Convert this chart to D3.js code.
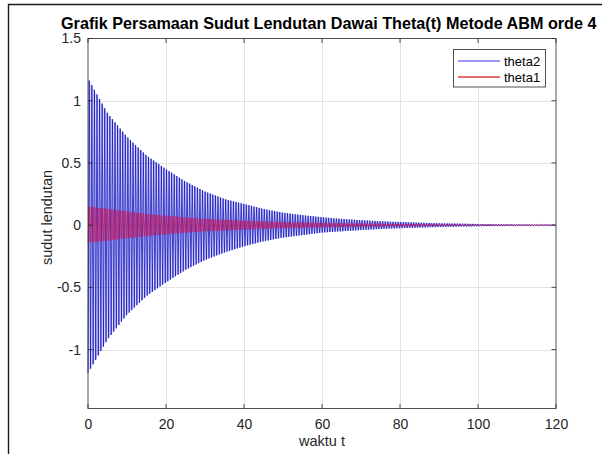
<!DOCTYPE html>
<html>
<head>
<meta charset="utf-8">
<script src="https://cdn.jsdelivr.net/npm/d3@7"></script>
<style>
  html, body { margin: 0; padding: 0; background: #fff; }
  svg { display: block; }
  text { font-family: "Liberation Sans", Arial, Helvetica, sans-serif; }
</style>
</head>
<body>
<svg id="chart" width="602" height="454"></svg>
<script>
// ---- data ----
const titleText = "Grafik Persamaan Sudut Lendutan Dawai Theta(t) Metode ABM orde 4";
const xLabelText = "waktu t";
const yLabelText = "sudut lendutan";
const seriesNames = ["theta2", "theta1"];

// envelope sample times (waktu t)
const timeKnots = [0, 5, 10, 15, 20, 25, 30, 35, 40, 45, 50, 55, 60, 65, 70, 75, 80, 85, 90, 95, 100, 105, 110, 115, 120];
// theta2 (blue) upper / lower peak envelopes
const theta2Upper = [1.18, 0.90, 0.71, 0.56, 0.45, 0.35, 0.27, 0.21, 0.17, 0.13, 0.10, 0.08, 0.064, 0.05, 0.04, 0.031, 0.025, 0.02, 0.015, 0.012, 0.009, 0.007, 0.006, 0.005, 0.004];
const theta2Lower = [-1.19, -0.92, -0.72, -0.57, -0.46, -0.36, -0.28, -0.22, -0.17, -0.13, -0.10, -0.08, -0.06, -0.05, -0.04, -0.031, -0.025, -0.02, -0.015, -0.012, -0.009, -0.007, -0.006, -0.005, -0.004];
// theta1 (red) upper / lower peak envelopes
const theta1Upper = [0.15, 0.13, 0.11, 0.09, 0.075, 0.062, 0.05, 0.043, 0.036, 0.03, 0.025, 0.021, 0.018, 0.015, 0.013, 0.011, 0.009, 0.008, 0.006, 0.005, 0.004, 0.004, 0.003, 0.003, 0.002];
const theta1Lower = [-0.14, -0.125, -0.105, -0.088, -0.073, -0.06, -0.05, -0.043, -0.036, -0.03, -0.025, -0.021, -0.018, -0.015, -0.013, -0.011, -0.009, -0.008, -0.006, -0.005, -0.004, -0.004, -0.003, -0.003, -0.002];
// visible oscillation periods
const theta2Period = 0.66;
const theta1Period = 0.58;

const xTicks = [0, 20, 40, 60, 80, 100, 120];
const yTicks = [-1, -0.5, 0, 0.5, 1, 1.5];
const xDomain = [0, 120];
const yDomain = [-1.474, 1.5];

// ---- layout ----
const svg = d3.select("#chart");
const L = 88, R = 556, T = 38.5, B = 408.5;
const x = d3.scaleLinear().domain(xDomain).range([L, R]);
const y = d3.scaleLinear().domain(yDomain).range([B, T]);
const axisColor = "#262626";
const fmt = d => String(d); // plain hyphen minus like the reference

// figure frame (top/left border of the screenshot)
svg.append("path").attr("d", "M8.5,460 V4.5 H610")
  .attr("fill", "none").attr("stroke", "#1a1a1a").attr("stroke-width", 1.4);

// grid
const grid = svg.append("g");
grid.selectAll("line.gx").data(xTicks.filter(d => d > xDomain[0] && d < xDomain[1])).join("line")
  .attr("class", "gx")
  .attr("x1", d => Math.round(x(d)) + 0.5).attr("x2", d => Math.round(x(d)) + 0.5)
  .attr("y1", T).attr("y2", B).attr("stroke", "#e2e2e2").attr("stroke-width", 1);
grid.selectAll("line.gy").data(yTicks.filter(d => d > yDomain[0] && d < yDomain[1])).join("line")
  .attr("class", "gy")
  .attr("y1", d => Math.round(y(d)) + 0.5).attr("y2", d => Math.round(y(d)) + 0.5)
  .attr("x1", L).attr("x2", R).attr("stroke", "#e2e2e2").attr("stroke-width", 1);

// build oscillation through envelope scales
function oscillation(upper, lower, period) {
  const up = d3.scaleLinear().domain(timeKnots).range(upper);
  const lo = d3.scaleLinear().domain(timeKnots).range(lower);
  const pts = [];
  let i = 0;
  for (let t = 0; t <= xDomain[1] + 1e-9; t += period / 2, i++) {
    pts.push([t, i % 2 === 0 ? lo(t) : up(t)]);
  }
  return pts;
}
function envelopeArea(upper, lower) {
  return timeKnots.map((t, i) => ({ t, u: upper[i], l: lower[i] }));
}
const area = d3.area().x(d => x(d.t)).y0(d => y(d.l)).y1(d => y(d.u)).curve(d3.curveMonotoneX);
const line = d3.line().x(d => x(d[0])).y(d => y(d[1]));

const plot = svg.append("g");
// theta2 (blue)
plot.append("path").datum(envelopeArea(theta2Upper, theta2Lower)).attr("d", area)
  .attr("fill", "rgb(40,40,220)").attr("fill-opacity", 0.16);
plot.append("path").datum(oscillation(theta2Upper, theta2Lower, theta2Period)).attr("d", line)
  .attr("fill", "none").attr("stroke", "rgb(15,15,190)").attr("stroke-width", 0.75);
// theta1 (red)
plot.append("path").datum(envelopeArea(theta1Upper, theta1Lower)).attr("d", area)
  .attr("fill", "rgb(200,0,120)").attr("fill-opacity", 0.18);
plot.append("path").datum(oscillation(theta1Upper, theta1Lower, theta1Period)).attr("d", line)
  .attr("fill", "none").attr("stroke", "rgb(235,0,40)").attr("stroke-width", 0.45);

// axes box
svg.append("rect").attr("x", L).attr("y", T).attr("width", R - L).attr("height", B - T)
  .attr("fill", "none").attr("stroke", axisColor).attr("stroke-width", 0.8);

const tickLen = 4.5;
const xAxisB = d3.axisBottom(x).tickValues(xTicks).tickSize(0).tickPadding(11).tickFormat(fmt);
const gx = svg.append("g").attr("transform", `translate(0,${B})`).call(xAxisB);
gx.select(".domain").remove();
gx.selectAll("text").attr("fill", axisColor).style("font-size", "14px");
const yAxisL = d3.axisLeft(y).tickValues(yTicks).tickSize(0).tickPadding(7).tickFormat(fmt);
const gy = svg.append("g").attr("transform", `translate(${L},0)`).call(yAxisL);
gy.select(".domain").remove();
gy.selectAll("text").attr("fill", axisColor).style("font-size", "14px");

// inward tick marks on all four sides
const ticks = svg.append("g").attr("stroke", axisColor).attr("stroke-width", 0.8);
ticks.selectAll("line.xb").data(xTicks).join("line").attr("class", "xb")
  .attr("x1", d => x(d)).attr("x2", d => x(d)).attr("y1", B).attr("y2", B - tickLen);
ticks.selectAll("line.xt").data(xTicks).join("line").attr("class", "xt")
  .attr("x1", d => x(d)).attr("x2", d => x(d)).attr("y1", T).attr("y2", T + tickLen);
ticks.selectAll("line.yl").data(yTicks).join("line").attr("class", "yl")
  .attr("y1", d => y(d)).attr("y2", d => y(d)).attr("x1", L).attr("x2", L + tickLen);
ticks.selectAll("line.yr").data(yTicks).join("line").attr("class", "yr")
  .attr("y1", d => y(d)).attr("y2", d => y(d)).attr("x1", R).attr("x2", R - tickLen);

// labels
svg.append("text").attr("x", (L + R) / 2).attr("y", 446).attr("text-anchor", "middle")
  .attr("fill", axisColor).style("font-size", "14.5px").text(xLabelText);
svg.append("text").attr("transform", `translate(52,${(T + B) / 2 - 6}) rotate(-90)`).attr("text-anchor", "middle")
  .attr("fill", axisColor).style("font-size", "14.5px").text(yLabelText);

// title, sized to the reference span
const title = svg.append("text").attr("x", 61).attr("y", 29).attr("fill", "#000")
  .style("font-size", "15px").style("font-weight", "bold").text(titleText);
const w = title.node().getComputedTextLength();
title.style("font-size", (15 * 536 / w).toFixed(2) + "px");

// legend
const lg = svg.append("g");
lg.append("rect").attr("x", 453.5).attr("y", 49.5).attr("width", 92).attr("height", 37.5)
  .attr("fill", "#fff").attr("stroke", axisColor).attr("stroke-width", 0.8);
const legendColors = ["rgb(120,120,240)", "rgb(225,60,60)"];
const rowsY = [61, 77];
seriesNames.forEach((name, i) => {
  lg.append("line").attr("x1", 458).attr("x2", 500).attr("y1", rowsY[i]).attr("y2", rowsY[i])
    .attr("stroke", legendColors[i]).attr("stroke-width", 1.3);
  lg.append("text").attr("x", 504).attr("y", rowsY[i] + 5).attr("fill", "#000")
    .style("font-size", "13px").text(name);
});
</script>
</body>
</html>
